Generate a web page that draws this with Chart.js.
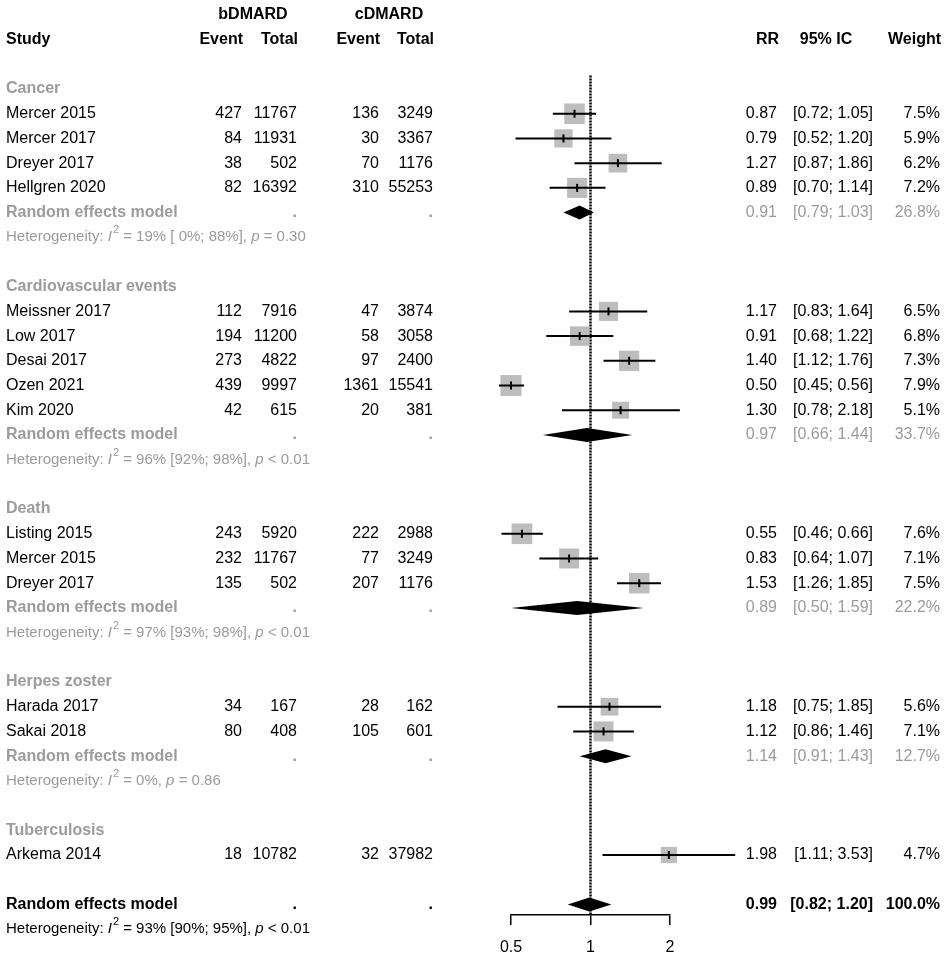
<!DOCTYPE html>
<html>
<head>
<meta charset="utf-8">
<script src="https://cdn.jsdelivr.net/npm/chart.js@4.4.1/dist/chart.umd.min.js"></script>
<style>
  html, body { margin: 0; padding: 0; background: #fff; }
  #wrap { width: 948px; height: 958px; }
</style>
</head>
<body>
<div id="wrap"><canvas id="forest" width="948" height="958"></canvas></div>
<script>
// studies
const groupNames = ['Cancer', 'Cardiovascular events', 'Death', 'Herpes zoster', 'Tuberculosis'];
const studyNames = ['Mercer 2015', 'Mercer 2017', 'Dreyer 2017', 'Hellgren 2020',
  'Meissner 2017', 'Low 2017', 'Desai 2017', 'Ozen 2021', 'Kim 2020',
  'Listing 2015', 'Mercer 2015', 'Dreyer 2017',
  'Harada 2017', 'Sakai 2018', 'Arkema 2014'];
const studyGroup = [0, 0, 0, 0, 1, 1, 1, 1, 1, 2, 2, 2, 3, 3, 4];
const bEvent = [427, 84, 38, 82, 112, 194, 273, 439, 42, 243, 232, 135, 34, 80, 18];
const bTotal = [11767, 11931, 502, 16392, 7916, 11200, 4822, 9997, 615, 5920, 11767, 502, 167, 408, 10782];
const cEvent = [136, 30, 70, 310, 47, 58, 97, 1361, 20, 222, 77, 207, 28, 105, 32];
const cTotal = [3249, 3367, 1176, 55253, 3874, 3058, 2400, 15541, 381, 2988, 3249, 1176, 162, 601, 37982];
const rr = [0.87, 0.79, 1.27, 0.89, 1.17, 0.91, 1.40, 0.50, 1.30, 0.55, 0.83, 1.53, 1.18, 1.12, 1.98];
const ciLow = [0.72, 0.52, 0.87, 0.70, 0.83, 0.68, 1.12, 0.45, 0.78, 0.46, 0.64, 1.26, 0.75, 0.86, 1.11];
const ciHigh = [1.05, 1.20, 1.86, 1.14, 1.64, 1.22, 1.76, 0.56, 2.18, 0.66, 1.07, 1.85, 1.85, 1.46, 3.53];
const weight = [7.5, 5.9, 6.2, 7.2, 6.5, 6.8, 7.3, 7.9, 5.1, 7.6, 7.1, 7.5, 5.6, 7.1, 4.7];

// subgroup pooled results (no pooled row for a single-study group)
const poolRR = [0.91, 0.97, 0.89, 1.14, null];
const poolLow = [0.79, 0.66, 0.50, 0.91, null];
const poolHigh = [1.03, 1.44, 1.59, 1.43, null];
const poolWeight = [26.8, 33.7, 22.2, 12.7, null];
const hetI2 = ['19%', '96%', '97%', '0%', null];
const hetRange = ['[ 0%; 88%]', '[92%; 98%]', '[93%; 98%]', null, null];
const hetP = ['= 0.30', '< 0.01', '< 0.01', '= 0.86', null];

// overall
const overallRR = 0.99, overallLow = 0.82, overallHigh = 1.20, overallWeight = 100.0;
const overallI2 = '93%', overallRange = '[90%; 95%]', overallP = '< 0.01';

const xTicks = [0.5, 1, 2];

const FONT = 'Arial, "Liberation Sans", sans-serif';
const GREY = '#9b9b9b';
const SQUARE = '#bdbdbd';

// work out which row each line of the table sits on
const rows = [];
const studyRow = [];
let r = 2;
groupNames.forEach((g, gi) => {
  rows.push({ kind: 'group', row: r++, g: gi });
  studyGroup.forEach((sg, i) => {
    if (sg === gi) { studyRow[i] = r; rows.push({ kind: 'study', row: r++, i }); }
  });
  if (poolRR[gi] !== null) {
    rows.push({ kind: 'pool', row: r++, g: gi });
    rows.push({ kind: 'het', row: r++, g: gi });
  }
  r++;
});
const overallRow = r;

const fmt2 = v => v.toFixed(2);
const ciText = (lo, hi) => `[${fmt2(lo)}; ${fmt2(hi)}]`;

function txt(ctx, s, x, y, align, bold, color, size) {
  ctx.font = (bold ? 'bold ' : '') + (size || 16) + 'px ' + FONT;
  ctx.textAlign = align;
  ctx.textBaseline = 'middle';
  ctx.fillStyle = color;
  ctx.fillText(s, x, y);
}

function hetLine(ctx, x, y, i2, range, p, color) {
  const parts = [
    ['Heterogeneity: ', ''], ['I', 'italic '], ['2', 'sup'],
    [' = ' + i2 + (range ? ' ' + range : '') + ', ', ''], ['p', 'italic '], [' ' + p, '']
  ];
  ctx.textAlign = 'left';
  ctx.textBaseline = 'middle';
  ctx.fillStyle = color;
  let cx = x;
  parts.forEach(([s, st]) => {
    if (st === 'sup') {
      ctx.font = '11px ' + FONT;
      ctx.fillText(s, cx + 1, y - 7);
      cx += ctx.measureText(s).width + 1;
    } else {
      ctx.font = st + '15px ' + FONT;
      ctx.fillText(s, cx, y);
      cx += ctx.measureText(s).width;
    }
  });
}

function diamond(ctx, xs, y, est, lo, hi) {
  ctx.beginPath();
  ctx.moveTo(xs.getPixelForValue(lo), y);
  ctx.lineTo(xs.getPixelForValue(est), y - 7);
  ctx.lineTo(xs.getPixelForValue(hi), y);
  ctx.lineTo(xs.getPixelForValue(est), y + 7);
  ctx.closePath();
  ctx.fillStyle = '#000';
  ctx.fill();
}

const forestPlugin = {
  id: 'forest',
  beforeDatasetsDraw(chart) {
    const { ctx, scales: { x, y }, chartArea } = chart;
    // reference line at RR = 1
    ctx.save();
    ctx.strokeStyle = '#000';
    ctx.lineWidth = 2.5;
    ctx.setLineDash([2, 1]);
    ctx.beginPath();
    ctx.moveTo(x.getPixelForValue(1), y.getPixelForValue(1.45));
    ctx.lineTo(x.getPixelForValue(1), chartArea.bottom);
    ctx.stroke();
    ctx.restore();
  },
  afterDatasetsDraw(chart) {
    const { ctx, scales: { x, y } } = chart;
    ctx.save();
    ctx.strokeStyle = '#000';
    ctx.lineWidth = 2;
    studyNames.forEach((_, i) => {
      const py = y.getPixelForValue(studyRow[i]);
      ctx.beginPath();
      ctx.moveTo(x.getPixelForValue(ciLow[i]), py);
      ctx.lineTo(x.getPixelForValue(ciHigh[i]), py);
      ctx.stroke();
      const px = x.getPixelForValue(rr[i]);
      ctx.beginPath();
      ctx.moveTo(px, py - 4);
      ctx.lineTo(px, py + 4);
      ctx.stroke();
    });
    rows.filter(o => o.kind === 'pool').forEach(o => {
      diamond(ctx, x, y.getPixelForValue(o.row), poolRR[o.g], poolLow[o.g], poolHigh[o.g]);
    });
    diamond(ctx, x, y.getPixelForValue(overallRow), overallRR, overallLow, overallHigh);
    ctx.restore();
  },
  afterDraw(chart) {
    const { ctx, scales: { y } } = chart;
    ctx.save();
    // headers
    txt(ctx, 'bDMARD', 253, y.getPixelForValue(-1), 'center', true, '#000');
    txt(ctx, 'cDMARD', 389, y.getPixelForValue(-1), 'center', true, '#000');
    const hy = y.getPixelForValue(0);
    txt(ctx, 'Study', 6, hy, 'left', true, '#000');
    txt(ctx, 'Event', 243, hy, 'right', true, '#000');
    txt(ctx, 'Total', 298, hy, 'right', true, '#000');
    txt(ctx, 'Event', 380, hy, 'right', true, '#000');
    txt(ctx, 'Total', 434, hy, 'right', true, '#000');
    txt(ctx, 'RR', 779, hy, 'right', true, '#000');
    txt(ctx, '95% IC', 826, hy, 'center', true, '#000');
    txt(ctx, 'Weight', 941, hy, 'right', true, '#000');

    rows.forEach(o => {
      const py = y.getPixelForValue(o.row);
      if (o.kind === 'group') {
        txt(ctx, groupNames[o.g], 6, py, 'left', true, GREY);
      } else if (o.kind === 'study') {
        const i = o.i;
        txt(ctx, studyNames[i], 6, py, 'left', false, '#000');
        txt(ctx, String(bEvent[i]), 242, py, 'right', false, '#000');
        txt(ctx, String(bTotal[i]), 297, py, 'right', false, '#000');
        txt(ctx, String(cEvent[i]), 379, py, 'right', false, '#000');
        txt(ctx, String(cTotal[i]), 433, py, 'right', false, '#000');
        txt(ctx, fmt2(rr[i]), 777, py, 'right', false, '#000');
        txt(ctx, ciText(ciLow[i], ciHigh[i]), 873, py, 'right', false, '#000');
        txt(ctx, weight[i].toFixed(1) + '%', 940, py, 'right', false, '#000');
      } else if (o.kind === 'pool') {
        const g = o.g;
        txt(ctx, 'Random effects model', 6, py, 'left', true, GREY);
        txt(ctx, '.', 297, py, 'right', true, GREY);
        txt(ctx, '.', 433, py, 'right', true, GREY);
        txt(ctx, fmt2(poolRR[g]), 777, py, 'right', false, GREY);
        txt(ctx, ciText(poolLow[g], poolHigh[g]), 873, py, 'right', false, GREY);
        txt(ctx, poolWeight[g].toFixed(1) + '%', 940, py, 'right', false, GREY);
      } else if (o.kind === 'het') {
        hetLine(ctx, 6, py, hetI2[o.g], hetRange[o.g], hetP[o.g], GREY);
      }
    });

    const oy = y.getPixelForValue(overallRow);
    txt(ctx, 'Random effects model', 6, oy, 'left', true, '#000');
    txt(ctx, '.', 297, oy, 'right', true, '#000');
    txt(ctx, '.', 433, oy, 'right', true, '#000');
    txt(ctx, fmt2(overallRR), 777, oy, 'right', true, '#000');
    txt(ctx, ciText(overallLow, overallHigh), 873, oy, 'right', true, '#000');
    txt(ctx, overallWeight.toFixed(1) + '%', 940, oy, 'right', true, '#000');
    hetLine(ctx, 6, y.getPixelForValue(overallRow + 1), overallI2, overallRange, overallP, '#000');
    ctx.restore();
  }
};

new Chart(document.getElementById('forest'), {
  type: 'scatter',
  data: {
    datasets: [{
      label: 'RR',
      data: rr.map((v, i) => ({ x: v, y: studyRow[i] })),
      pointStyle: 'rect',
      // square side grows with sqrt(weight); rect side = radius * sqrt(2)
      pointRadius: weight.map(w => 7.5 * Math.sqrt(w) / Math.SQRT2),
      pointBackgroundColor: SQUARE,
      pointBorderWidth: 0,
      pointBorderColor: SQUARE,
      clip: false
    }]
  },
  options: {
    responsive: false,
    animation: false,
    events: [],
    layout: { padding: { left: 511, right: 278, top: 11.6, bottom: 0 } },
    plugins: { legend: { display: false }, tooltip: { enabled: false } },
    scales: {
      x: {
        type: 'logarithmic',
        min: 0.5,
        max: 2,
        position: 'bottom',
        afterBuildTicks: s => { s.ticks = xTicks.map(v => ({ value: v })); },
        afterFit: s => { s.height = 43; },
        ticks: {
          callback: v => String(v),
          color: '#000',
          font: { size: 16, family: FONT },
          padding: 13,
          autoSkip: false,
          maxRotation: 0
        },
        grid: { drawOnChartArea: false, drawTicks: true, tickLength: 10, color: '#000', lineWidth: 1.5 },
        border: { display: true, color: '#000', width: 1.5 }
      },
      y: {
        type: 'linear',
        display: false,
        reverse: true,
        min: -1,
        max: 35.43
      }
    }
  },
  plugins: [forestPlugin]
});
</script>
</body>
</html>
